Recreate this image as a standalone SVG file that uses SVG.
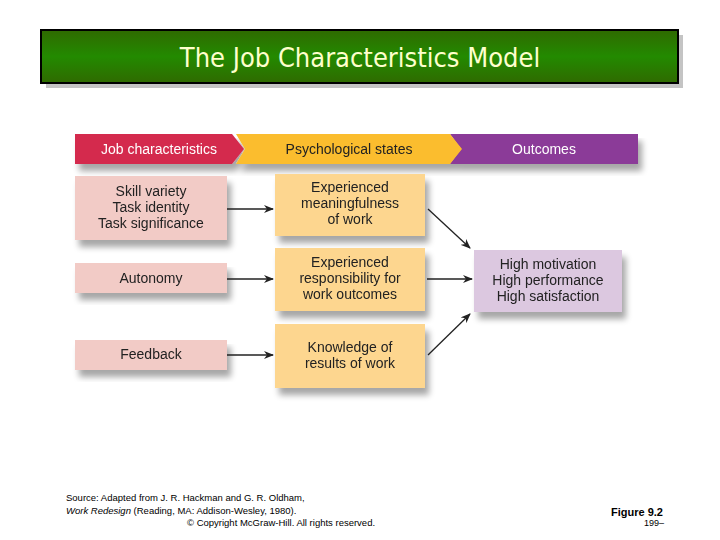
<svg xmlns="http://www.w3.org/2000/svg" width="720" height="540" viewBox="0 0 720 540">
<defs>
<linearGradient id="g" x1="0" y1="0" x2="0" y2="1"><stop offset="0" stop-color="#2f6a00"/><stop offset="0.5" stop-color="#238a00"/><stop offset="1" stop-color="#2f6a00"/></linearGradient>
<marker id="a" markerWidth="10" markerHeight="8" refX="9" refY="4" orient="auto" markerUnits="userSpaceOnUse"><path d="M0,0 L10,4 L0,8 L3,4 Z" fill="#222"/></marker>
<filter id="s" x="-10%" y="-10%" width="130%" height="150%"><feGaussianBlur in="SourceAlpha" stdDeviation="3"/><feOffset dx="4" dy="7"/><feComponentTransfer><feFuncA type="linear" slope="0.35"/></feComponentTransfer><feMerge><feMergeNode/><feMergeNode in="SourceGraphic"/></feMerge></filter>
</defs>
<style>
text{font-family:"Liberation Sans",Arial,sans-serif;text-anchor:middle}
.h{font-size:14px}
.b{font-size:14px;fill:#222}
.l{stroke:#222;stroke-width:1.3;fill:none;marker-end:url(#a)}
.f{font-size:9.5px;text-anchor:start}
</style>
<rect width="720" height="540" fill="#fff"/>
<g id="title">
<rect x="46" y="35" width="637" height="53" fill="#c4c4c4"/>
<rect x="41" y="30" width="637" height="53" fill="url(#g)" stroke="#000" stroke-width="2"/>
<text x="360" y="67" font-size="27" fill="#ffffcc" style="font-family:'DejaVu Sans Condensed','DejaVu Sans',sans-serif">The Job Characteristics Model</text>
</g>
<g id="header" filter="url(#s)">
<path d="M450,134 H638 V164 H450 L461,149 Z" fill="#8b3a98"/>
<path d="M236,134 H450 L462,149 L450,164 H236 L245,149 Z" fill="#fbbd2e"/>
<path d="M75,134 H232 L244,149 L232,164 H75 Z" fill="#d42b4e"/>
<text class="h" x="159" y="154" fill="#fff">Job characteristics</text>
<text class="h" x="349" y="154" fill="#222">Psychological states</text>
<text class="h" x="544" y="154" fill="#fff">Outcomes</text>
</g>
<g id="n1" filter="url(#s)"><rect x="75" y="176" width="152" height="64" fill="#f2cbc6"/>
<text class="b" x="151" y="196">Skill variety</text><text class="b" x="151" y="212">Task identity</text><text class="b" x="151" y="228">Task significance</text></g>
<g id="n2" filter="url(#s)"><rect x="75" y="263" width="152" height="30" fill="#f2cbc6"/><text class="b" x="151" y="283">Autonomy</text></g>
<g id="n3" filter="url(#s)"><rect x="75" y="340" width="152" height="30" fill="#f2cbc6"/><text class="b" x="151" y="359">Feedback</text></g>
<g id="m1" filter="url(#s)"><rect x="275" y="174" width="150" height="62" fill="#fdd68f"/>
<text class="b" x="350" y="192">Experienced</text><text class="b" x="350" y="208">meaningfulness</text><text class="b" x="350" y="224">of work</text></g>
<g id="m2" filter="url(#s)"><rect x="275" y="248" width="150" height="63" fill="#fdd68f"/>
<text class="b" x="350" y="267">Experienced</text><text class="b" x="350" y="283">responsibility for</text><text class="b" x="350" y="299">work outcomes</text></g>
<g id="m3" filter="url(#s)"><rect x="275" y="324" width="150" height="64" fill="#fdd68f"/>
<text class="b" x="350" y="352">Knowledge of</text><text class="b" x="350" y="368">results of work</text></g>
<g id="o" filter="url(#s)"><rect x="474" y="250" width="148" height="62" fill="#dcc8e0"/>
<text class="b" x="548" y="269">High motivation</text><text class="b" x="548" y="285">High performance</text><text class="b" x="548" y="301">High satisfaction</text></g>
<g id="connectors">
<line class="l" x1="227" y1="209" x2="273" y2="209"/>
<line class="l" x1="227" y1="279" x2="273" y2="279"/>
<line class="l" x1="227" y1="355" x2="273" y2="355"/>
<line class="l" x1="427" y1="279" x2="472" y2="279"/>
<line class="l" x1="428" y1="209" x2="470" y2="248"/>
<line class="l" x1="428" y1="355" x2="470" y2="314"/>
</g>
<g id="footer">
<text class="f" x="66" y="501">Source: Adapted from J. R. Hackman and G. R. Oldham,</text>
<text class="f" x="66" y="514"><tspan font-style="italic">Work Redesign</tspan> (Reading, MA: Addison-Wesley, 1980).</text>
<text class="f" x="187" y="526">© Copyright McGraw-Hill. All rights reserved.</text>
<text x="637" y="516" font-size="11" font-weight="bold">Figure 9.2</text>
<text x="654" y="526" font-size="9">199–</text>
</g>
</svg>
